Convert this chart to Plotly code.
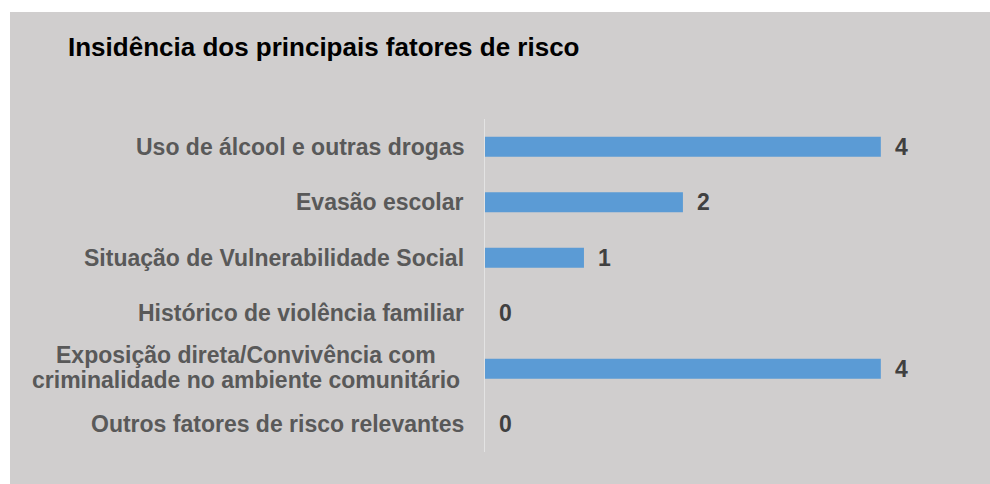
import plotly.graph_objects as go

categories = [
    "Uso de álcool e outras drogas",
    "Evasão escolar",
    "Situação de Vulnerabilidade Social",
    "Histórico de violência familiar",
    "Exposição direta/Convivência com<br>criminalidade no ambiente comunitário",
    "Outros fatores de risco relevantes",
]
values = [4, 2, 1, 0, 4, 0]
title_text = "Insidência dos principais fatores de risco"

W, H = 990, 484
L, R, T, B = 485, 30, 119, 32
pw = W - L - R
ph = H - T - B
FONT = "Liberation Sans, Arial"

fig = go.Figure()
fig.add_trace(go.Bar(
    x=values, y=categories, orientation="h",
    marker=dict(color="#5b9bd5", line=dict(width=0)),
    width=0.36, hoverinfo="skip",
))

ann = []
for c, v in zip(categories, values):
    ann.append(dict(x=v, y=c, xref="x", yref="y", text="<b>%d</b>" % v, showarrow=False,
                    xanchor="left", yanchor="middle", xshift=12,
                    font=dict(family=FONT, size=23, color="#404040")))
    lines = c.split("<br>")
    n = len(lines)
    for i, ln in enumerate(lines):
        ys = (n - 1) / 2 * 25 - i * 25 + (1 if n > 1 else 0)
        ann.append(dict(x=0, y=c, xref="x", yref="y", text="<b>" + ln + "</b>",
                        showarrow=False, xanchor="center" if n > 1 else "right",
                        yanchor="middle", yshift=ys,
                        xshift=-239 if n > 1 else -19,
                        font=dict(family=FONT, size=23, color="#595959")))

fig.update_layout(
    width=W, height=H,
    margin=dict(l=L, r=R, t=T, b=B, pad=0),
    paper_bgcolor="white",
    plot_bgcolor="rgba(0,0,0,0)",
    showlegend=False,
    title=dict(text="<b>" + title_text + "</b>", x=68 / W, xanchor="left",
               xref="container", y=1 - 47 / H, yanchor="middle", yref="container",
               font=dict(family=FONT, size=26, color="black")),
    xaxis=dict(range=[0, 4.8], showgrid=False, zeroline=False, showticklabels=False,
               showline=False, fixedrange=True),
    yaxis=dict(autorange="reversed", showgrid=False, zeroline=False, showticklabels=False,
               showline=True, linecolor="#e3e3e3", linewidth=1, ticks="", fixedrange=True),
    shapes=[dict(type="rect", xref="paper", yref="paper",
                 x0=(10 - L) / pw, x1=(W - L) / pw,
                 y0=-B / ph, y1=(H - 12 - B) / ph,
                 fillcolor="#d0cece", line=dict(width=0), layer="below")],
    annotations=ann,
)

fig.write_html("out.html", config={"displayModeBar": False},
               post_script="document.body.style.margin='0';document.body.style.padding='0';")
